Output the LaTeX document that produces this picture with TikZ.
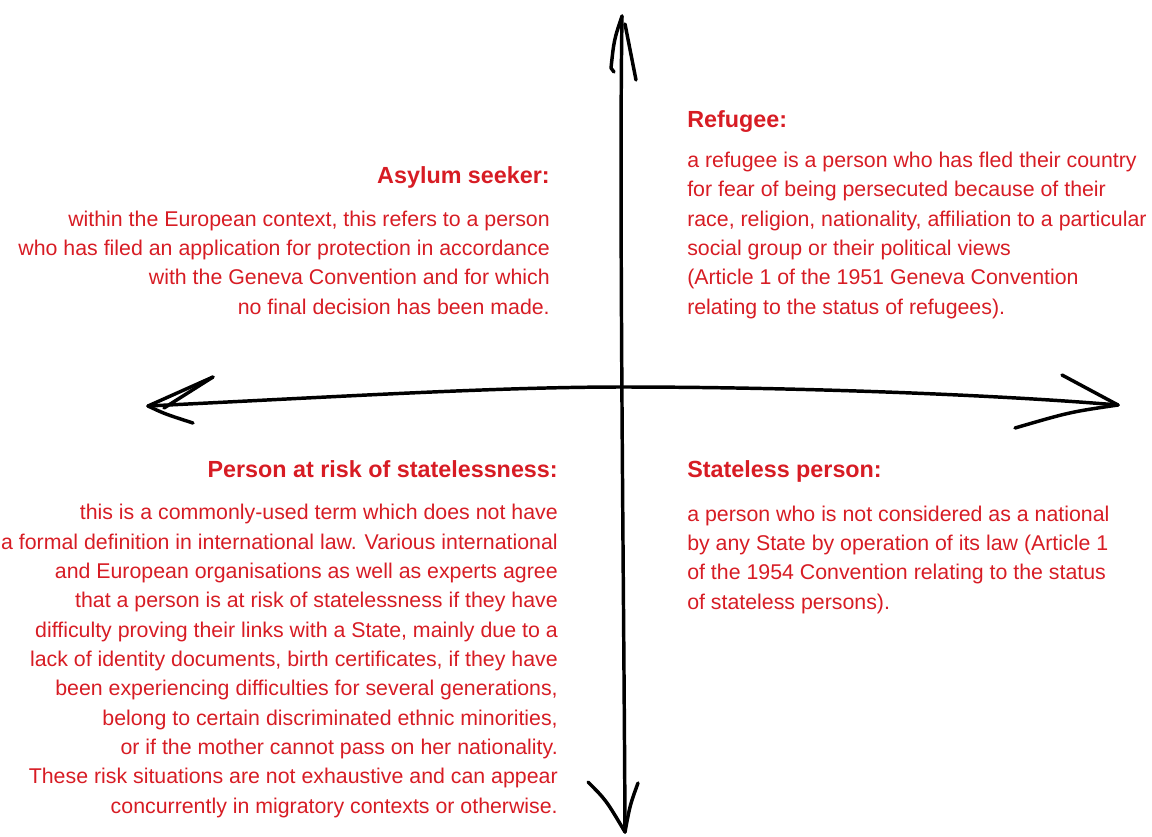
\documentclass[tikz,border=0pt]{standalone}
\usepackage{fontspec}
\setmainfont{Liberation Sans}
\definecolor{termred}{RGB}{215,28,36}
\begin{document}
\begin{tikzpicture}[x=0.75pt,y=-0.75pt,
  head/.style={text=termred, font=\fontsize{17.5}{22}\selectfont\bfseries, inner sep=0pt},
  body/.style={text=termred, font=\fontsize{16}{22}\selectfont, inner sep=0pt},
  pen/.style={draw, line width=2.6pt, line cap=round, line join=round}]
\useasboundingbox (0,0) rectangle (1152,836);

% axes ends
\coordinate (top) at (622,16);
\coordinate (bottom) at (625,832);
\coordinate (left) at (148,406);
\coordinate (right) at (1118,405);
\coordinate (mid) at (622,387);
\coordinate (topl) at (611,68);
\coordinate (topr) at (636,80);
\coordinate (botl) at (588,782);
\coordinate (botr) at (638,783);
\coordinate (leftu) at (213,377);
\coordinate (leftd) at (193,423);
\coordinate (rightu) at (1062,375);
\coordinate (rightd) at (1015,428);

\path[pen] (top) .. controls (619,200) and (624,600) .. (bottom);
\path[pen] (top) .. controls (614,40) .. (topl) -- +(3,4);
\path[pen] (top) ++(3,8) -- (topr);
\path[pen] (botl) .. controls (606,800) .. (bottom);
\path[pen] (botr) .. controls (630,805) .. (bottom);
\path[pen] (left) .. controls (350,396) and (500,387) .. (mid)
  .. controls (800,387) and (1000,395) .. (right);
\path[pen] (leftu) -- (left) .. controls (165,414) .. (leftd);
\path[pen] (leftu) -- (164,408);
\path[pen] (rightu) -- (right);
\path[pen] (rightd) .. controls (1070,412) .. (right);

% right top
\node[head, anchor=base west] (refugeehead) at (687,127) {Refugee:};
\node[body, anchor=base west, align=left] (refugeetext) at (687,314)
  {a refugee is a person who has fled their country\\
   for fear of being persecuted because of their\\
   race, religion, nationality, affiliation to a particular\\
   social group or their political views\\
   (Article 1 of the 1951 Geneva Convention\\
   relating to the status of refugees).};

% left top
\node[head, anchor=base east] (asylumhead) at (550,183) {Asylum seeker:};
\node[body, anchor=base east, align=right] (asylumtext) at (550,314)
  {within the European context, this refers to a person\\
   who has filed an application for protection in accordance\\
   with the Geneva Convention and for which\\
   no final decision has been made.};

% left bottom
\node[head, anchor=base east] (riskhead) at (558,477) {Person at risk of statelessness:};
\node[body, anchor=base east, align=right] (risktext) at (558,813)
  {this is a commonly-used term which does not have\\
   a formal definition in international law. Various international\\
   and European organisations as well as experts agree\\
   that a person is at risk of statelessness if they have\\
   difficulty proving their links with a State, mainly due to a\\
   lack of identity documents, birth certificates, if they have\\
   been experiencing difficulties for several generations,\\
   belong to certain discriminated ethnic minorities,\\
   or if the mother cannot pass on her nationality.\\
   These risk situations are not exhaustive and can appear\\
   concurrently in migratory contexts or otherwise.};

% right bottom
\node[head, anchor=base west] (statelesshead) at (687,477) {Stateless person:};
\node[body, anchor=base west, align=left] (statelesstext) at (687,609)
  {a person who is not considered as a national\\
   by any State by operation of its law (Article 1\\
   of the 1954 Convention relating to the status\\
   of stateless persons).};
\end{tikzpicture}
\end{document}
